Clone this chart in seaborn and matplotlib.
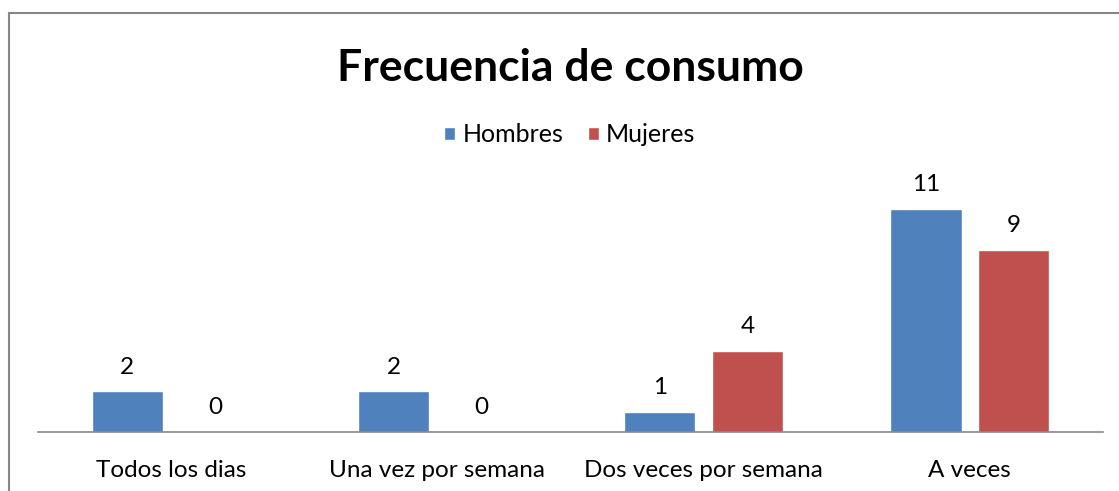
import seaborn as sns
import matplotlib.pyplot as plt
import pandas as pd
from matplotlib.patches import Patch
from matplotlib.lines import Line2D

categorias = ['Todos los dias', 'Una vez por semana', 'Dos veces por semana', 'A veces']
hombres = [2, 2, 1, 11]
mujeres = [0, 0, 4, 9]
series = ['Hombres', 'Mujeres']
colores = ['#4F81BD', '#C0504D']

df = pd.DataFrame({
    'categoria': categorias * 2,
    'valor': hombres + mujeres,
    'sexo': [series[0]] * len(categorias) + [series[1]] * len(categorias),
})

sns.set_style('white')
plt.rcParams['font.family'] = ['Lato', 'DejaVu Sans']
plt.rcParams['text.color'] = 'black'

W, H = 1119, 491
fig = plt.figure(figsize=(W / 100, H / 100), dpi=100)

# marco del grafico: solo se ven el borde superior y el izquierdo
borde = '#868686'
fig.add_artist(Line2D([9 / W, 1], [(H - 13) / H] * 2, color=borde, lw=1.5))
fig.add_artist(Line2D([9 / W] * 2, [0, (H - 13) / H], color=borde, lw=1.5))

ax = fig.add_axes([38 / W, (H - 432) / H, (1103 - 38) / W, (432 - 188.7) / H])
sns.barplot(data=df, x='categoria', y='valor', hue='sexo', palette=colores,
            width=0.66, gap=0.19, saturation=1, legend=False, ax=ax)

ax.set_ylim(0, 12)
ax.set_xlim(-0.5, 3.5)
ax.set_xlabel('')
ax.set_ylabel('')
ax.set_yticks([])
sns.despine(ax=ax, left=True)
ax.spines['bottom'].set_color(borde)
ax.spines['bottom'].set_linewidth(1.2)
ax.tick_params(axis='x', length=0, pad=20, labelsize=17.5, labelcolor='black')

for cont in ax.containers:
    ax.bar_label(cont, fmt='%d', padding=10, fontsize=17.5, color='black')

fig.text(0.51, (H - 68) / H, 'Frecuencia de consumo', ha='center', va='center',
         fontsize=32, fontweight='bold', color='black')

handles = [Patch(facecolor=c, label=s) for s, c in zip(series, colores)]
fig.legend(handles=handles, loc='center', bbox_to_anchor=(570 / W, (H - 135) / H),
           ncol=2, frameon=False, fontsize=18, handlelength=0.42, handleheight=0.42,
           handletextpad=0.3, columnspacing=1.0)

fig.savefig('out.png', dpi=100)
